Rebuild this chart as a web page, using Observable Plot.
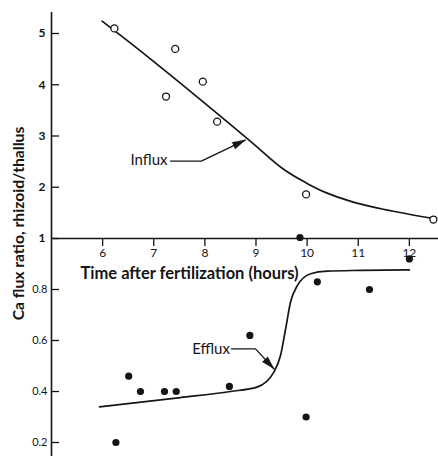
<!DOCTYPE html>
<html>
<head>
<meta charset="utf-8">
<script src="https://cdn.jsdelivr.net/npm/d3@7"></script>
<script src="https://cdn.jsdelivr.net/npm/@observablehq/plot@0.6"></script>
<style>
  html, body { margin: 0; padding: 0; background: #fff; }
  #chart svg { display: block; }
</style>
</head>
<body>
<div id="chart"></div>
<script>
// ---- data ----
const xTicks = [6, 7, 8, 9, 10, 11, 12];
const yTicksMajor = [1, 2, 3, 4, 5];
const yTicksMinor = [0.2, 0.4, 0.6, 0.8];

// Influx: open circles
const influxX = [6.23, 7.24, 7.42, 7.96, 8.24, 9.98, 12.47];
const influxY = [5.10, 3.77, 4.70, 4.06, 3.28, 1.86, 1.37];
// Efflux: filled dots
const effluxX = [6.26, 6.51, 6.74, 7.21, 7.44, 8.48, 8.88, 9.86, 9.98, 10.20, 11.22, 12.00];
const effluxY = [0.20, 0.46, 0.40, 0.40, 0.40, 0.42, 0.62, 1.02, 0.30, 0.83, 0.80, 0.92];

// Fitted curves (hand-drawn in the original)
const influxCurveX = [5.99, 6.94, 8.83, 9.54, 9.99, 10.38, 10.84, 11.49, 12.41];
const influxCurveY = [5.24, 4.50, 2.95, 2.35, 2.08, 1.89, 1.73, 1.57, 1.40];
const effluxCurveX = [5.94, 7.52, 8.50, 9.02, 9.35, 9.48, 9.58, 9.675, 9.81, 10.07, 10.39, 11.04, 12.00];
const effluxCurveY = [0.340, 0.376, 0.400, 0.417, 0.476, 0.541, 0.646, 0.750, 0.816, 0.862, 0.872, 0.875, 0.877];

// Annotations
const influxLabel = {x: 6.545, y: 2.52, text: "Influx"};
const influxLeaderX = [7.33, 7.93, 8.79];
const influxLeaderY = [2.51, 2.51, 2.92];
const effluxLabel = {x: 7.752, y: 0.565, text: "Efflux"};
const effluxLeaderX = [8.52, 8.99, 9.35];
const effluxLeaderY = [0.567, 0.567, 0.489];

const xTitle = "Time after fertilization (hours)";
const yTitle = "Ca flux ratio, rhizoid/thallus";

const xMin = 5, xMax = 12.57;

// ---- build tables ----
const influx = influxX.map((x, i) => ({x, y: influxY[i]}));
const efflux = effluxX.map((x, i) => ({x, y: effluxY[i]}));
const influxCurve = influxCurveX.map((x, i) => ({x, y: influxCurveY[i]}));
const effluxCurve = effluxCurveX.map((x, i) => ({x, y: effluxCurveY[i]}));
const influxLeader = influxLeaderX.map((x, i) => ({x, y: influxLeaderY[i]}));
const effluxLeader = effluxLeaderX.map((x, i) => ({x, y: effluxLeaderY[i]}));

const ink = "#151515";
const font = "Lato, 'DejaVu Sans', sans-serif";

const chart = Plot.plot({
  width: 438,
  height: 456,
  marginTop: 12,
  marginBottom: 0,
  marginLeft: 51,
  marginRight: 0,
  style: {fontFamily: font, fontSize: "12px", color: ink, background: "#fff", overflow: "visible"},
  x: {type: "linear", domain: [xMin, xMax], axis: null},
  y: {type: "linear", domain: [0.2, 1, 5], range: [442, 238, 33], axis: null},
  marks: [
    // axes lines
    Plot.ruleX([xMin], {stroke: ink, strokeWidth: 1.6}),
    Plot.ruleY([1], {stroke: ink, strokeWidth: 1.4}),
    // ticks
    Plot.ruleX(xTicks, {x: d => d, y1: 1, y2: 1, insetBottom: -8, stroke: ink, strokeWidth: 1.3}),
    Plot.ruleY(yTicksMajor.concat(yTicksMinor), {y: d => d, x1: xMin, x2: xMin, insetRight: -8, stroke: ink, strokeWidth: 1.3}),
    // tick labels
    Plot.text(xTicks, {x: d => d, y: 1, dy: 15, text: d => String(d), fontSize: 12, fill: ink}),
    Plot.text(yTicksMajor, {x: xMin, y: d => d, dx: -6, text: d => String(d), textAnchor: "end", fontSize: 12, fontWeight: "bold", fill: ink}),
    Plot.text(yTicksMinor, {x: xMin, y: d => d, dx: -4, text: d => d.toFixed(1), textAnchor: "end", fontSize: 11, fill: ink}),
    // titles
    Plot.text([xTitle], {x: 7.70, y: 1, dy: 35, text: d => d, fontSize: 16.5, fontWeight: "bold", fill: ink}),
    Plot.text([yTitle], {frameAnchor: "left", textAnchor: "middle", dx: -33, dy: -11, rotate: -90, text: d => d, fontSize: 15.7, fontWeight: "bold", fill: ink}),
    // curves
    Plot.line(influxCurve, {x: "x", y: "y", curve: "catmull-rom", stroke: ink, strokeWidth: 1.7}),
    Plot.line(effluxCurve, {x: "x", y: "y", curve: "monotone-x", stroke: ink, strokeWidth: 1.7}),
    // points
    Plot.dot(influx, {x: "x", y: "y", r: 3.5, stroke: ink, strokeWidth: 1.3, fill: "#fff"}),
    Plot.dot(efflux, {x: "x", y: "y", r: 3.6, fill: ink, stroke: "none"}),
    // annotations
    Plot.text([influxLabel], {x: "x", y: "y", text: "text", textAnchor: "start", fontSize: 15, fill: ink}),
    Plot.text([effluxLabel], {x: "x", y: "y", text: "text", textAnchor: "start", fontSize: 15, fill: ink}),
    Plot.line(influxLeader, {x: "x", y: "y", stroke: ink, strokeWidth: 1.3}),
    Plot.line(effluxLeader, {x: "x", y: "y", stroke: ink, strokeWidth: 1.3}),
    Plot.vector([influxLeader[2]], {x: "x", y: "y", rotate: 64.5, length: 13, r: 3.6, anchor: "end", shape: "spike", fill: ink, stroke: ink, strokeWidth: 0.5}),
    Plot.vector([effluxLeader[2]], {x: "x", y: "y", rotate: 137, length: 13, r: 3.6, anchor: "end", shape: "spike", fill: ink, stroke: ink, strokeWidth: 0.5})
  ]
});
document.getElementById("chart").appendChild(chart);
</script>
</body>
</html>
